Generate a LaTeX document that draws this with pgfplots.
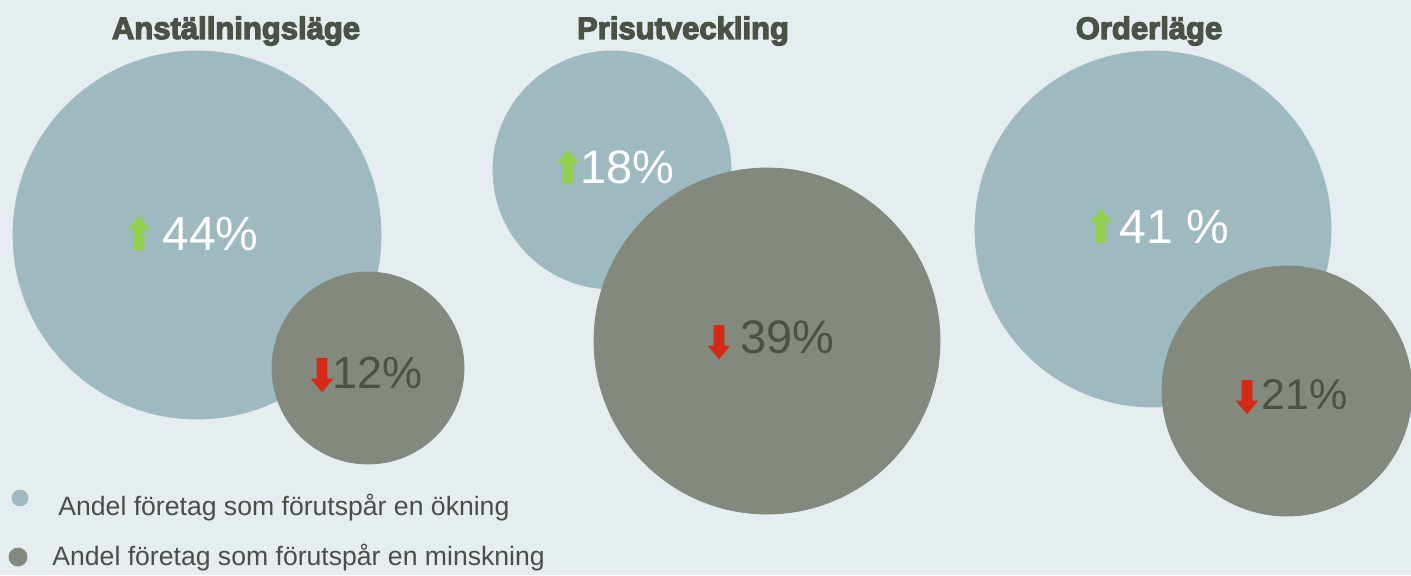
\documentclass[border=0pt]{standalone}
\usepackage{pgfplots}
\pgfplotsset{compat=1.18}
\usepackage{fontspec}
\setmainfont{Liberation Sans}
\newfontfamily\heavyfont{Liberation Sans}[BoldFeatures={FakeBold=4}]
\usetikzlibrary{shapes.arrows}

\definecolor{bgcol}{HTML}{E6EDF0}
\definecolor{inccol}{HTML}{9EB9BF}
\definecolor{deccol}{HTML}{838A7D}
\definecolor{titlecol}{HTML}{4A5145}
\definecolor{darktxt}{HTML}{4B5048}
\definecolor{legtxt}{HTML}{4A4D48}
\definecolor{arrgreen}{HTML}{92D050}
\definecolor{arrred}{HTML}{D42A17}

\pgfplotstableread{
x y r
197 235 184
612 170 119
1153 229 178
}\increase
\pgfplotstableread{
x y r
368 368 96
767 341 173
1287 391 125
}\decrease

\begin{document}
\begin{tikzpicture}[
  uparr/.style={single arrow, shape border rotate=90, fill=arrgreen, draw=none,
    minimum height=17pt, inner sep=2.5pt, single arrow head extend=3pt,
    single arrow tip angle=80},
  downarr/.style={uparr, shape border rotate=270, fill=arrred},
  pct/.style={anchor=west, inner sep=0pt, font=\fontsize{24}{24}\selectfont},
  ttl/.style={font=\heavyfont\bfseries\fontsize{15.5}{15.5}\selectfont, text=titlecol},
  leg/.style={anchor=west, inner sep=0pt, text=legtxt, font=\fontsize{13.3}{14}\selectfont}
]
\begin{axis}[
  x=0.5pt, y=0.5pt, y dir=reverse,
  xmin=0, xmax=1411, ymin=0, ymax=575,
  axis line style={draw=none}, ticks=none,
  axis background/.style={fill=bgcol},
  clip marker paths=true,
]
% bubbles: blue = increase, grey = decrease
\addplot[scatter, only marks, mark=*,
  scatter/use mapped color={draw=inccol, fill=inccol},
  visualization depends on={\thisrow{r} \as \rad},
  scatter/@pre marker code/.append style={/tikz/mark size=0.5*\rad}]
  table[x=x, y=y] {\increase};
\addplot[scatter, only marks, mark=*,
  scatter/use mapped color={draw=deccol, fill=deccol},
  visualization depends on={\thisrow{r} \as \rad},
  scatter/@pre marker code/.append style={/tikz/mark size=0.5*\rad}]
  table[x=x, y=y] {\decrease};
% legend dots
\addplot[only marks, mark=*, mark size=4pt, color=inccol] coordinates {(20,498)};
\addplot[only marks, mark=*, mark size=4.5pt, color=deccol] coordinates {(18,557)};

\node[ttl] at (axis cs:236,31) {Anställningsläge};
\node[ttl] at (axis cs:683,31) {Prisutveckling};
\node[ttl] at (axis cs:1149,31) {Orderläge};

\node[uparr] at (axis cs:139,236) {};
\node[pct, text=white] at (axis cs:162,234) {44\%};
\node[downarr] at (axis cs:322,372) {};
\node[pct, text=darktxt, font=\fontsize{22.5}{24}\selectfont] at (axis cs:332,373) {12\%};

\node[uparr] at (axis cs:568,170) {};
\node[pct, text=white, font=\fontsize{23.5}{24}\selectfont] at (axis cs:580,167) {18\%};
\node[downarr] at (axis cs:719,339) {};
\node[pct, text=darktxt, font=\fontsize{23.5}{24}\selectfont] at (axis cs:740,337) {39\%};

\node[uparr] at (axis cs:1101,229) {};
\node[pct, text=white] at (axis cs:1119,227) {41 \%};
\node[downarr] at (axis cs:1247,394) {};
\node[pct, text=darktxt, font=\fontsize{21.5}{24}\selectfont] at (axis cs:1261,395) {21\%};

\node[leg] at (axis cs:58,508) {Andel företag som förutspår en ökning};
\node[leg] at (axis cs:52,558) {Andel företag som förutspår en minskning};
\end{axis}
\end{tikzpicture}
\end{document}
